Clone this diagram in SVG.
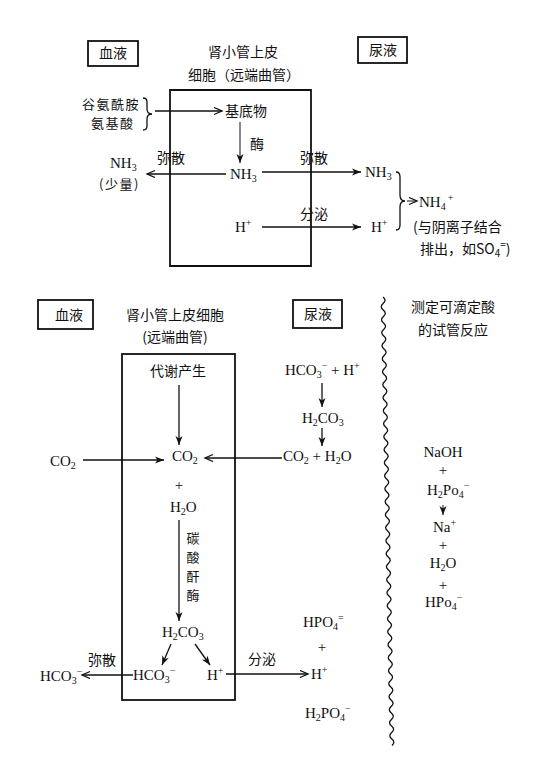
<svg xmlns="http://www.w3.org/2000/svg" width="536" height="764" viewBox="0 0 536 764">
<style>
text{font-family:"Liberation Serif","Noto Sans CJK SC",serif;fill:#111}
.cn{font-family:"Noto Sans CJK SC","Liberation Serif",sans-serif;font-size:14px}
.c13{font-size:13px}
.f{font-size:15px}
.s{font-size:10px}
.m{text-anchor:middle}
.ln{stroke:#111;stroke-width:1.3;fill:none}
.bx{stroke:#111;stroke-width:1.8;fill:none}
</style>
<defs>
<marker id="ao" markerUnits="userSpaceOnUse" markerWidth="12" markerHeight="10" refX="9" refY="4" orient="auto">
<path d="M1,0.5 L9,4 L1,7.5" fill="none" stroke="#111" stroke-width="1.3"/>
</marker>
<marker id="af" markerUnits="userSpaceOnUse" markerWidth="12" markerHeight="10" refX="9" refY="4" orient="auto">
<path d="M0,0.5 L9,4 L0,7.5 L2.5,4 Z" fill="#111"/>
</marker>
</defs>
<rect width="536" height="764" fill="#fff"/>

<!-- ===== TOP SECTION ===== -->
<g id="top-blood">
<rect class="bx" x="88" y="41" width="50" height="25"/>
<text class="cn m" x="113" y="58">血液</text>
</g>
<g id="top-title">
<text class="cn m" x="243" y="57">肾小管上皮</text>
<text class="cn m" x="244" y="80">细胞（远端曲管）</text>
</g>
<g id="top-urine">
<rect class="bx" x="358" y="37" width="49" height="26"/>
<text class="cn m" x="383" y="55">尿液</text>
</g>
<g id="top-cell">
<path class="bx" d="M170,90 H311 V266 H170 Z"/>
</g>
<g id="top-source">
<text class="cn c13" x="82" y="109" letter-spacing="1.5">谷氨酰胺</text>
<text class="cn c13" x="91" y="128" letter-spacing="1.5">氨基酸</text>
<path class="ln" d="M143,98 q4,0 4,4 v7 q0,5 5,5 q-5,0 -5,5 v7 q0,4 -4,4"/>
</g>
<g id="top-substrate"><text class="cn" x="225" y="116">基底物</text></g>
<g id="top-enzyme"><text class="cn" x="250" y="149">酶</text></g>
<g id="top-nh3-center"><text class="f" x="230" y="179">NH<tspan class="s" dy="3">3</tspan></text></g>
<g id="top-nh3-blood">
<text class="f" x="110" y="168">NH<tspan class="s" dy="3">3</tspan></text>
<text class="cn c13" x="99" y="189" letter-spacing="1.5">(少量)</text>
</g>
<g id="top-h-cell"><text class="f" x="235" y="232">H<tspan class="s" dy="-6">+</tspan></text></g>
<g id="top-nh3-urine"><text class="f" x="365" y="177">NH<tspan class="s" dy="3">3</tspan></text></g>
<g id="top-h-urine"><text class="f" x="371" y="232">H<tspan class="s" dy="-6">+</tspan></text></g>
<g id="top-nh4">
<path class="ln" d="M396,172 q4,0 4,5 v18 q0,6 5,6 q-5,0 -5,6 v18 q0,5 -4,5"/>
<text class="f" x="419" y="207">NH<tspan class="s" dy="3">4</tspan><tspan class="s" dx="2" dy="-9">+</tspan></text>
<text class="cn" x="413" y="232">(与阴离子结合</text>
<text class="cn" x="420" y="254">排出，如SO<tspan class="s" dy="3">4</tspan><tspan class="s" dy="-9">=</tspan><tspan dy="6">)</tspan></text>
</g>
<g id="top-labels">
<text class="cn" x="157" y="163">弥散</text>
<text class="cn" x="300" y="163">弥散</text>
<text class="cn" x="300" y="219">分泌</text>
</g>

<!-- ===== BOTTOM SECTION ===== -->
<g id="bot-blood">
<rect class="bx" x="38" y="300" width="55" height="29"/>
<text class="cn m" x="69" y="320">血液</text>
</g>
<g id="bot-title">
<text class="cn m" x="175" y="320">肾小管上皮细胞</text>
<text class="cn m" x="175" y="342">(远端曲管)</text>
</g>
<g id="bot-urine">
<rect class="bx" x="293" y="300" width="49" height="28"/>
<text class="cn m" x="318" y="319">尿液</text>
</g>
<g id="bot-test-title">
<text class="cn m" x="453" y="312">测定可滴定酸</text>
<text class="cn m" x="453" y="335">的试管反应</text>
</g>
<g id="bot-cell">
<rect class="bx" x="122" y="354" width="113" height="346"/>
</g>
<g id="bot-metab"><text class="cn m" x="178" y="376">代谢产生</text></g>
<g id="bot-co2-cell"><text class="f" x="172" y="461">CO<tspan class="s" dy="3">2</tspan></text></g>
<g id="bot-co2-blood"><text class="f" x="50" y="466">CO<tspan class="s" dy="3">2</tspan></text></g>
<g id="bot-plus-h2o">
<text class="f m" x="179" y="490">+</text>
<text class="f" x="170" y="512">H<tspan class="s" dy="3">2</tspan><tspan dy="-3">O</tspan></text>
</g>
<g id="bot-enzyme">
<text class="cn c13 m" x="193" y="543">碳</text>
<text class="cn c13 m" x="193" y="562">酸</text>
<text class="cn c13 m" x="193" y="581">酐</text>
<text class="cn c13 m" x="193" y="600">酶</text>
</g>
<g id="bot-h2co3-cell"><text class="f" x="162" y="637">H<tspan class="s" dy="3">2</tspan><tspan dy="-3">CO</tspan><tspan class="s" dy="3">3</tspan></text></g>
<g id="bot-hco3-cell"><text class="f" x="133" y="680">HCO<tspan class="s" dy="3">3</tspan><tspan class="s" dy="-9">−</tspan></text></g>
<g id="bot-h-cell"><text class="f" x="207" y="680">H<tspan class="s" dy="-6">+</tspan></text></g>
<g id="bot-hco3-blood"><text class="f" x="40" y="681">HCO<tspan class="s" dy="3">3</tspan><tspan class="s" dy="-9">−</tspan></text></g>
<g id="bot-urine-hco3"><text class="f" x="285" y="375">HCO<tspan class="s" dy="3">3</tspan><tspan class="s" dy="-9">−</tspan><tspan dy="6"> + H</tspan><tspan class="s" dy="-6">+</tspan></text></g>
<g id="bot-urine-h2co3"><text class="f" x="302" y="423">H<tspan class="s" dy="3">2</tspan><tspan dy="-3">CO</tspan><tspan class="s" dy="3">3</tspan></text></g>
<g id="bot-urine-co2h2o"><text class="f" x="283" y="461">CO<tspan class="s" dy="3">2</tspan><tspan dy="-3"> + H</tspan><tspan class="s" dy="3">2</tspan><tspan dy="-3">O</tspan></text></g>
<g id="bot-h-urine"><text class="f" x="311" y="679">H<tspan class="s" dy="-6">+</tspan></text></g>
<g id="bot-phosphate">
<text class="f" x="303" y="627">HPO<tspan class="s" dy="3">4</tspan><tspan class="s" dy="-9">=</tspan></text>
<text class="f m" x="322" y="652">+</text>
<text class="f" x="305" y="718">H<tspan class="s" dy="3">2</tspan><tspan dy="-3">PO</tspan><tspan class="s" dy="3">4</tspan><tspan class="s" dy="-9">−</tspan></text>
</g>
<g id="bot-labels">
<text class="cn" x="88" y="665">弥散</text>
<text class="cn" x="248" y="664">分泌</text>
</g>
<g id="bot-test">
<text class="f m" x="443" y="457">NaOH</text>
<text class="f m" x="443" y="475">+</text>
<text class="f" x="427" y="495">H<tspan class="s" dy="3">2</tspan><tspan dy="-3">Po</tspan><tspan class="s" dy="3">4</tspan><tspan class="s" dy="-9">−</tspan></text>
<text class="f" x="433" y="532">Na<tspan class="s" dy="-6">+</tspan></text>
<text class="f m" x="443" y="550">+</text>
<text class="f m" x="443" y="568">H<tspan class="s" dy="3">2</tspan><tspan dy="-3">O</tspan></text>
<text class="f m" x="443" y="590">+</text>
<text class="f" x="425" y="607">HPo<tspan class="s" dy="3">4</tspan><tspan class="s" dy="-9">−</tspan></text>
</g>
<g id="divider">
<path class="ln" stroke-width="1.6" d="M383,297 q4,3.25 0.13,6.5 t0.13,6.5 t0.13,6.5 t0.13,6.5 t0.13,6.5 t0.13,6.5 t0.13,6.5 t0.13,6.5 t0.13,6.5 t0.13,6.5 t0.13,6.5 t0.13,6.5 t0.13,6.5 t0.13,6.5 t0.13,6.5 t0.13,6.5 t0.13,6.5 t0.13,6.5 t0.13,6.5 t0.13,6.5 t0.13,6.5 t0.13,6.5 t0.13,6.5 t0.13,6.5 t0.13,6.5 t0.13,6.5 t0.13,6.5 t0.13,6.5 t0.13,6.5 t0.13,6.5 t0.13,6.5 t0.13,6.5 t0.13,6.5 t0.13,6.5 t0.13,6.5 t0.13,6.5 t0.13,6.5 t0.13,6.5 t0.13,6.5 t0.13,6.5 t0.13,6.5 t0.13,6.5 t0.13,6.5 t0.13,6.5 t0.13,6.5 t0.13,6.5 t0.13,6.5 t0.13,6.5 t0.13,6.5 t0.13,6.5 t0.13,6.5 t0.13,6.5 t0.13,6.5 t0.13,6.5 t0.13,6.5 t0.13,6.5 t0.13,6.5 t0.13,6.5 t0.13,6.5 t0.13,6.5 t0.13,6.5 t0.13,6.5 t0.13,6.5 t0.13,6.5 t0.13,6.5 t0.13,6.5 t0.13,6.5 t0.13,6.5 t0.13,6.5"/>
</g>

<!-- ===== CONNECTORS ===== -->
<g id="connectors" class="ln">
<!-- top -->
<path d="M155,111 H222" marker-end="url(#ao)"/>
<path d="M240,122 V163" stroke-width="1" marker-end="url(#af)"/>
<path d="M226,174 H147" marker-end="url(#ao)"/>
<path d="M262,172 H361" marker-end="url(#af)"/>
<path d="M262,227 H361" marker-end="url(#af)"/>
<path d="M407,201 H417" stroke-width="1" marker-end="url(#ao)"/>
<!-- bottom -->
<path d="M179,385 V445" marker-end="url(#af)"/>
<path d="M83,460 H164" marker-end="url(#af)"/>
<path d="M282,458 H205" marker-end="url(#ao)"/>
<path d="M322,383 V407" marker-end="url(#af)"/>
<path d="M322,428 V446" marker-end="url(#af)"/>
<path d="M179,520 V621" marker-end="url(#af)"/>
<path d="M171,644 L162,665" marker-end="url(#af)"/>
<path d="M195,644 L210,665" marker-end="url(#af)"/>
<path d="M133,675 H82" marker-end="url(#ao)"/>
<path d="M226,674 H308" stroke-width="1.6" marker-end="url(#ao)"/>
<path d="M443,505 V515" stroke-width="1" marker-end="url(#af)"/>
</g>
</svg>
